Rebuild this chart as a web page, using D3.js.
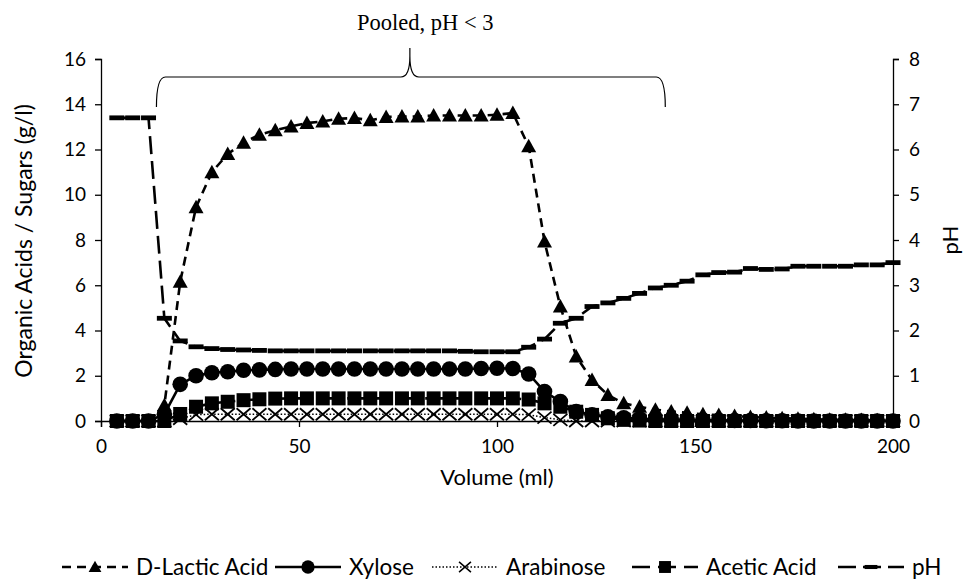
<!DOCTYPE html>
<html>
<head>
<meta charset="utf-8">
<script src="https://cdn.jsdelivr.net/npm/d3@7"></script>
<style>
  body { margin: 0; background: #fff; }
  svg { display: block; }
  text { font-family: Lato, "Open Sans", sans-serif; fill: #000; }
</style>
</head>
<body>
<svg id="chart" width="966" height="586"></svg>
<script>
// volume (ml), one sample every 4 ml
const volume = d3.range(4, 201, 4);

const lactic = [0, 0, 0, 0.7, 6.15, 9.45, 11.0, 11.8, 12.3, 12.65, 12.85, 13.02, 13.17, 13.24, 13.36, 13.39, 13.29,
  13.44, 13.46, 13.46, 13.5, 13.5, 13.5, 13.5, 13.54, 13.61, 12.14, 7.93, 5.06, 2.85, 1.81, 1.15, 0.78, 0.63, 0.5,
  0.42, 0.36, 0.3, 0.26, 0.22, 0.18, 0.15, 0.12, 0.1, 0.08, 0.06, 0.05, 0.04, 0.03, 0.02];
const xylose = [0, 0, 0, 0.3, 1.62, 2.0, 2.13, 2.18, 2.24, 2.26, 2.28, 2.3, 2.3, 2.3, 2.3, 2.3, 2.3, 2.3, 2.3, 2.3,
  2.3, 2.3, 2.3, 2.32, 2.33, 2.32, 2.08, 1.3, 0.86, 0.42, 0.27, 0.19, 0.14, 0.1, 0.08, 0.06, 0.05, 0.04, 0.03, 0.02,
  0.02, 0.01, 0.01, 0, 0, 0, 0, 0, 0, 0];
const arabinose = [0, 0, 0, 0, 0.1, 0.28, 0.3, 0.3, 0.3, 0.3, 0.3, 0.3, 0.3, 0.3, 0.3, 0.3, 0.3, 0.3, 0.3, 0.3,
  0.3, 0.3, 0.3, 0.3, 0.3, 0.3, 0.28, 0.15, 0.05, 0, 0, 0, 0, 0, 0, 0, 0, 0, 0, 0, 0, 0, 0, 0, 0, 0, 0, 0, 0, 0];
const acetic = [0, 0, 0, 0, 0.31, 0.63, 0.78, 0.85, 0.92, 0.96, 0.99, 1.0, 1.0, 1.0, 1.0, 1.0, 1.0, 1.0, 1.0, 1.0,
  1.0, 1.0, 1.0, 1.0, 1.0, 1.0, 0.95, 0.78, 0.63, 0.41, 0.27, 0.12, 0.05, 0.02, 0, 0, 0, 0, 0, 0, 0, 0, 0, 0, 0, 0,
  0, 0, 0, 0];
const pH = [6.7, 6.7, 6.7, 2.27, 1.77, 1.64, 1.6, 1.58, 1.57, 1.56, 1.55, 1.55, 1.55, 1.55, 1.55, 1.55, 1.55, 1.55,
  1.55, 1.55, 1.55, 1.55, 1.54, 1.53, 1.53, 1.53, 1.63, 1.81, 2.16, 2.27, 2.53, 2.61, 2.71, 2.82, 2.94, 3.0, 3.09,
  3.23, 3.28, 3.29, 3.37, 3.35, 3.36, 3.42, 3.42, 3.42, 3.42, 3.45, 3.45, 3.5];

const xTicks = [0, 50, 100, 150, 200];
const leftTicks = [0, 2, 4, 6, 8, 10, 12, 14, 16];
const rightTicks = [0, 1, 2, 3, 4, 5, 6, 7, 8];

// bracket over the pooled fractions: start, end, tip (ml)
const pooledRange = [14, 142.5, 78];
const pooledLabel = "Pooled, pH < 3";

const svg = d3.select("#chart");
const x = d3.scaleLinear().domain([0, 200]).range([101, 893]);
const yL = d3.scaleLinear().domain([0, 16]).range([421, 59]);
const yR = d3.scaleLinear().domain([0, 8]).range([421, 59]);

// axes
const fmt = d3.format("d");
const gx = svg.append("g").attr("transform", "translate(0,421)")
  .call(d3.axisBottom(x).tickValues(xTicks).tickSize(6).tickPadding(13).tickFormat(fmt));
const gl = svg.append("g").attr("transform", "translate(101,0)")
  .call(d3.axisLeft(yL).tickValues(leftTicks).tickSize(6).tickPadding(9).tickFormat(fmt));
const gr = svg.append("g").attr("transform", "translate(893,0)")
  .call(d3.axisRight(yR).tickValues(rightTicks).tickSize(6).tickPadding(10).tickFormat(fmt));
[gx, gl, gr].forEach(g => {
  g.select(".domain").attr("stroke", "#000").attr("stroke-width", 1.3);
  g.selectAll(".tick line").attr("stroke", "#000").attr("stroke-width", 1.3);
  g.selectAll(".tick text").style("font-size", "19px").style("font-family", "Lato, sans-serif");
});

svg.append("text").attr("x", 497).attr("y", 485).attr("text-anchor", "middle")
  .style("font-size", "22px").text("Volume (ml)");
svg.append("text").attr("transform", "translate(32,241) rotate(-90)").attr("text-anchor", "middle")
  .style("font-size", "23px").text("Organic Acids / Sugars (g/l)");
svg.append("text").attr("transform", "translate(958,240) rotate(-90)").attr("text-anchor", "middle")
  .style("font-size", "22px").text("pH");

// marker shapes
function marker(g, kind) {
  if (kind === "tri") g.append("path").attr("d", "M0,-7.5L7.5,6L-7.5,6Z").attr("fill", "#000");
  else if (kind === "circ") g.append("circle").attr("r", 7.8).attr("fill", "#000");
  else if (kind === "sq") g.append("rect").attr("x", -7).attr("y", -7).attr("width", 14).attr("height", 14).attr("fill", "#000");
  else if (kind === "x") g.append("path").attr("d", "M-7,-6L7,6M-7,6L7,-6").attr("stroke", "#000").attr("stroke-width", 1.8).attr("fill", "none");
  else if (kind === "dash") g.append("rect").attr("x", -7.5).attr("y", -2.4).attr("width", 15).attr("height", 4.8).attr("fill", "#000");
}

const series = [
  {name: "D-Lactic Acid", values: lactic, y: yL, kind: "tri", dash: "9,6", width: 2.6},
  {name: "Xylose", values: xylose, y: yL, kind: "circ", dash: null, width: 2.6},
  {name: "Arabinose", values: arabinose, y: yL, kind: "x", dash: "1.5,2", width: 1.5},
  {name: "Acetic Acid", values: acetic, y: yL, kind: "sq", dash: "18,8", width: 2.6},
  {name: "pH", values: pH, y: yR, kind: "dash", dash: "18,7", width: 2.6}
];

series.forEach(s => {
  const pts = volume.map((v, i) => [v, s.values[i]]);
  svg.append("path").datum(pts)
    .attr("d", d3.line().x(d => x(d[0])).y(d => s.y(d[1])))
    .attr("fill", "none").attr("stroke", "#000").attr("stroke-width", s.width)
    .attr("stroke-dasharray", s.dash);
  svg.append("g").selectAll("g").data(pts).join("g")
    .attr("transform", d => `translate(${x(d[0])},${s.y(d[1])})`)
    .each(function () { marker(d3.select(this), s.kind); });
});

// pooled bracket
const bx0 = x(pooledRange[0]), bx1 = x(pooledRange[1]), bt = x(pooledRange[2]);
const by = 77, byEnd = 107, byTip = 48, r = 9;
const brace = d3.path();
brace.moveTo(bx0, byEnd);
brace.quadraticCurveTo(bx0, by, bx0 + r, by);
brace.lineTo(bt - r, by);
brace.quadraticCurveTo(bt, by, bt, byTip + 8);
brace.lineTo(bt, byTip);
brace.moveTo(bt, byTip + 8);
brace.quadraticCurveTo(bt, by, bt + r, by);
brace.lineTo(bx1 - r, by);
brace.quadraticCurveTo(bx1, by, bx1, byEnd);
svg.append("path").attr("d", brace.toString()).attr("fill", "none").attr("stroke", "#000").attr("stroke-width", 1.2);
svg.append("text").attr("x", 357).attr("y", 30)
  .style("font-family", "'Liberation Serif', 'Times New Roman', serif").style("font-size", "22.5px")
  .text(pooledLabel);

// legend
const legendX = [62, 275, 432, 632, 838];
const ly = 567;
series.forEach((s, i) => {
  const g = svg.append("g").attr("transform", `translate(${legendX[i]},${ly})`);
  g.append("line").attr("x1", 0).attr("x2", 66).attr("y1", 0).attr("y2", 0)
    .attr("stroke", "#000").attr("stroke-width", s.width).attr("stroke-dasharray", s.dash);
  const m = g.append("g");
  marker(m, s.kind);
  m.attr("transform", "translate(33,0) scale(0.85)");
  g.append("text").attr("x", 74).attr("y", 0).attr("dy", "0.35em")
    .style("font-size", "22.5px").text(s.name);
});
</script>
</body>
</html>
